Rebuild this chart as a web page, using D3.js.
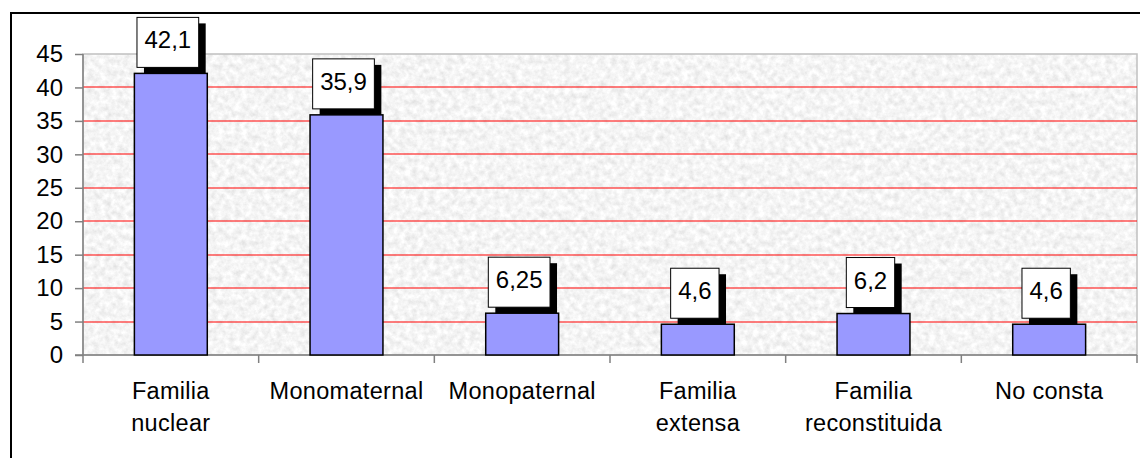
<!DOCTYPE html>
<html>
<head>
<meta charset="utf-8">
<script src="https://cdn.jsdelivr.net/npm/d3@7"></script>
<style>
  body { margin: 0; background: #fff; }
  svg { display: block; font-family: "Liberation Sans", Arial, sans-serif; }
</style>
</head>
<body>
<script>
// data
var categories = [["Familia", "nuclear"], ["Monomaternal"], ["Monopaternal"], ["Familia", "extensa"], ["Familia", "reconstituida"], ["No consta"]];
var values = [42.1, 35.9, 6.25, 4.6, 6.2, 4.6];
var labels = ["42,1", "35,9", "6,25", "4,6", "6,2", "4,6"];
var yTicks = [0, 5, 10, 15, 20, 25, 30, 35, 40, 45];

var W = 1140, H = 458;
var plot = { left: 83, right: 1137, top: 54, bottom: 355 };

var svg = d3.select("body").append("svg")
  .attr("width", W)
  .attr("height", H);

// granite-ish texture
var defs = svg.append("defs");
var f = defs.append("filter").attr("id", "granite")
  .attr("x", 0).attr("y", 0).attr("width", 1).attr("height", 1);
f.append("feTurbulence")
  .attr("type", "fractalNoise")
  .attr("baseFrequency", 0.17)
  .attr("numOctaves", 4)
  .attr("seed", 7);
f.append("feColorMatrix")
  .attr("type", "matrix")
  .attr("values", "0.38 0 0 0 0.72  0.38 0 0 0 0.72  0.38 0 0 0 0.72  0 0 0 0 1");

// outer frame
svg.append("rect")
  .attr("x", 11).attr("y", 13)
  .attr("width", W + 10).attr("height", H + 10)
  .attr("fill", "none")
  .attr("stroke", "#000")
  .attr("stroke-width", 2);

var x = d3.scaleBand()
  .domain(d3.range(values.length))
  .range([plot.left, plot.right])
  .paddingInner(0.585)
  .paddingOuter(0.2925);

var y = d3.scaleLinear()
  .domain([0, 45])
  .range([plot.bottom, plot.top]);

// plot background
svg.append("rect")
  .attr("x", plot.left).attr("y", plot.top)
  .attr("width", plot.right - plot.left)
  .attr("height", plot.bottom - plot.top)
  .attr("fill", "#ececec")
  .attr("filter", "url(#granite)");
svg.append("rect")
  .attr("x", plot.left).attr("y", plot.top)
  .attr("width", plot.right - plot.left)
  .attr("height", plot.bottom - plot.top)
  .attr("fill", "none")
  .attr("stroke", "#c0c0c0")
  .attr("stroke-width", 1.5);

// red gridlines
svg.append("g").selectAll("line")
  .data(yTicks.filter(function(d){ return d > 0 && d < 45; }))
  .join("line")
  .attr("x1", plot.left).attr("x2", plot.right)
  .attr("y1", function(d){ return Math.round(y(d)); })
  .attr("y2", function(d){ return Math.round(y(d)); })
  .attr("stroke", "#ff0000")
  .attr("stroke-width", 1.2);

// y axis
var yAxis = svg.append("g")
  .attr("transform", "translate(" + plot.left + ",0)")
  .call(d3.axisLeft(y).tickValues(yTicks).tickSize(8).tickPadding(12).tickFormat(d3.format("d")));
yAxis.selectAll("line, path").attr("stroke", "#808080").attr("stroke-width", 1.5);
yAxis.selectAll("text").attr("font-size", "24px").attr("fill", "#000")
  .attr("font-family", "Liberation Sans, Arial, sans-serif");
yAxis.select(".domain").attr("d", "M0," + plot.top + "V" + plot.bottom);

// x axis with ticks between categories
var step = x.step();
var bounds = d3.range(values.length + 1).map(function(i){ return plot.left + i * step; });
svg.append("line")
  .attr("x1", plot.left - 8).attr("x2", plot.right)
  .attr("y1", plot.bottom).attr("y2", plot.bottom)
  .attr("stroke", "#808080").attr("stroke-width", 1.5);
svg.append("g").selectAll("line")
  .data(bounds)
  .join("line")
  .attr("x1", function(d){ return d; }).attr("x2", function(d){ return d; })
  .attr("y1", plot.bottom).attr("y2", plot.bottom + 8)
  .attr("stroke", "#808080").attr("stroke-width", 1.5);

// category labels
svg.append("g").selectAll("text")
  .data(categories)
  .join("text")
  .attr("text-anchor", "middle")
  .attr("font-size", "23.5px")
  .attr("letter-spacing", "0.3px")
  .attr("transform", function(d, i){ return "translate(" + (x(i) + x.bandwidth() / 2) + ",399)"; })
  .selectAll("tspan")
  .data(function(d){ return d; })
  .join("tspan")
  .attr("x", 0)
  .attr("dy", function(d, i){ return i === 0 ? 0 : 32; })
  .text(function(d){ return d; });

// bars
svg.append("g").selectAll("rect")
  .data(values)
  .join("rect")
  .attr("x", function(d, i){ return x(i); })
  .attr("y", function(d){ return y(d); })
  .attr("width", x.bandwidth())
  .attr("height", function(d){ return y(0) - y(d); })
  .attr("fill", "#9999ff")
  .attr("stroke", "#000")
  .attr("stroke-width", 1.5);

// data labels: white box with black drop shadow
var lab = svg.append("g").selectAll("g")
  .data(values)
  .join("g")
  .attr("transform", function(d, i){
    return "translate(" + (x(i) + x.bandwidth() / 2 - 3) + "," + (y(d) - 6) + ")";
  });
lab.each(function(d, i){
  var g = d3.select(this);
  var t = g.append("text")
    .attr("text-anchor", "middle")
    .attr("font-size", "24px")
    .attr("y", -19)
    .text(labels[i]);
  var w = t.node().getComputedTextLength() + 15;
  var h = 50;
  g.insert("rect", "text")
    .attr("x", -w / 2 + 7).attr("y", -h + 6)
    .attr("width", w).attr("height", h)
    .attr("fill", "#000");
  g.insert("rect", "text")
    .attr("x", -w / 2).attr("y", -h)
    .attr("width", w).attr("height", h)
    .attr("fill", "#fff")
    .attr("stroke", "#000")
    .attr("stroke-width", 1);
});
</script>
</body>
</html>
